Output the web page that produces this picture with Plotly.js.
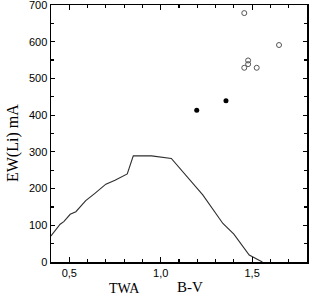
<!DOCTYPE html>
<html>
<head>
<meta charset="utf-8">
<script src="https://cdn.plot.ly/plotly-3.0.1.min.js"></script>
<style>html,body{margin:0;padding:0;background:#fff}#chart{width:311px;height:295px}</style>
</head>
<body>
<div id="chart"></div>
<script>
// TWA envelope curve
const curveBV = [0.40, 0.45, 0.47, 0.505, 0.536, 0.59, 0.64, 0.70, 0.75, 0.817, 0.85, 0.95, 1.058, 1.23, 1.34, 1.40, 1.484, 1.556];
const curveEW = [71, 103, 110, 130, 137, 167, 187, 212, 223, 240, 289, 289, 282, 183, 105, 76, 19, 0];
// filled points
const filledBV = [1.197, 1.357];
const filledEW = [413, 439];
// open points
const openBV = [1.457, 1.647, 1.478, 1.478, 1.457, 1.525];
const openEW = [678, 591, 549, 539, 529, 529];
// axis labels
const xTickVals = [0.5, 1.0, 1.5];
const xTickText = ['0,5', '1,0', '1,5'];
const yTickVals = [0, 100, 200, 300, 400, 500, 600, 700];

const traces = [
  {x: curveBV, y: curveEW, mode: 'lines', line: {color: '#2e2e2e', width: 1.1}, hoverinfo: 'skip'},
  {x: filledBV, y: filledEW, mode: 'markers', marker: {symbol: 'circle', size: 5, color: '#000'}},
  {x: openBV, y: openEW, mode: 'markers', marker: {symbol: 'circle-open', size: 5, color: '#555', line: {width: 1, color: '#555'}}}
];

const axisFont = {family: 'Liberation Sans, Arial, sans-serif', size: 11, color: '#000'};
const serif = 'Liberation Serif, Times New Roman, serif';
const layout = {
  width: 311, height: 295,
  margin: {l: 51, r: 4, t: 5, b: 33},
  showlegend: false,
  paper_bgcolor: '#fff', plot_bgcolor: '#fff',
  xaxis: {
    range: [0.4, 1.8], showgrid: false, zeroline: false,
    showline: true, linecolor: '#000', linewidth: 1.5, mirror: 'allticks',
    ticks: 'inside', ticklen: 5, tickwidth: 1.2, tickcolor: '#000',
    tickmode: 'array', tickvals: xTickVals, ticktext: xTickText,
    tickfont: axisFont, ticklabeloverflow: 'allow',
    minor: {dtick: 0.1, tick0: 0, ticks: 'inside', ticklen: 3, tickwidth: 1.2, tickcolor: '#000', showgrid: false}
  },
  yaxis: {
    range: [0, 700], showgrid: false, zeroline: false,
    showline: true, linecolor: '#000', linewidth: 1.5, mirror: 'allticks',
    ticks: 'inside', ticklen: 4, tickwidth: 1.2, tickcolor: '#000',
    tickmode: 'array', tickvals: yTickVals,
    tickfont: axisFont, ticklabeloverflow: 'allow',
    minor: {dtick: 50, tick0: 0, ticks: 'inside', ticklen: 3, tickwidth: 1.2, tickcolor: '#000', showgrid: false}
  },
  annotations: [
    {text: 'EW(Li) mA', xref: 'paper', yref: 'paper', x: (13-51)/256, y: (262-143)/257, xanchor: 'center', yanchor: 'middle', textangle: -90, showarrow: false,
     font: {family: serif, size: 16, color: '#000'}},
    {text: 'TWA', xref: 'paper', yref: 'paper', x: (124-51)/256, y: -(288-262)/257, xanchor: 'center', yanchor: 'middle', showarrow: false,
     font: {family: serif, size: 14, color: '#000'}},
    {text: 'B-V', xref: 'paper', yref: 'paper', x: (190-51)/256, y: -(287-262)/257, xanchor: 'center', yanchor: 'middle', showarrow: false,
     font: {family: serif, size: 15, color: '#000'}}
  ]
};

Plotly.newPlot('chart', traces, layout, {displayModeBar: false, staticPlot: true});
</script>
</body>
</html>
